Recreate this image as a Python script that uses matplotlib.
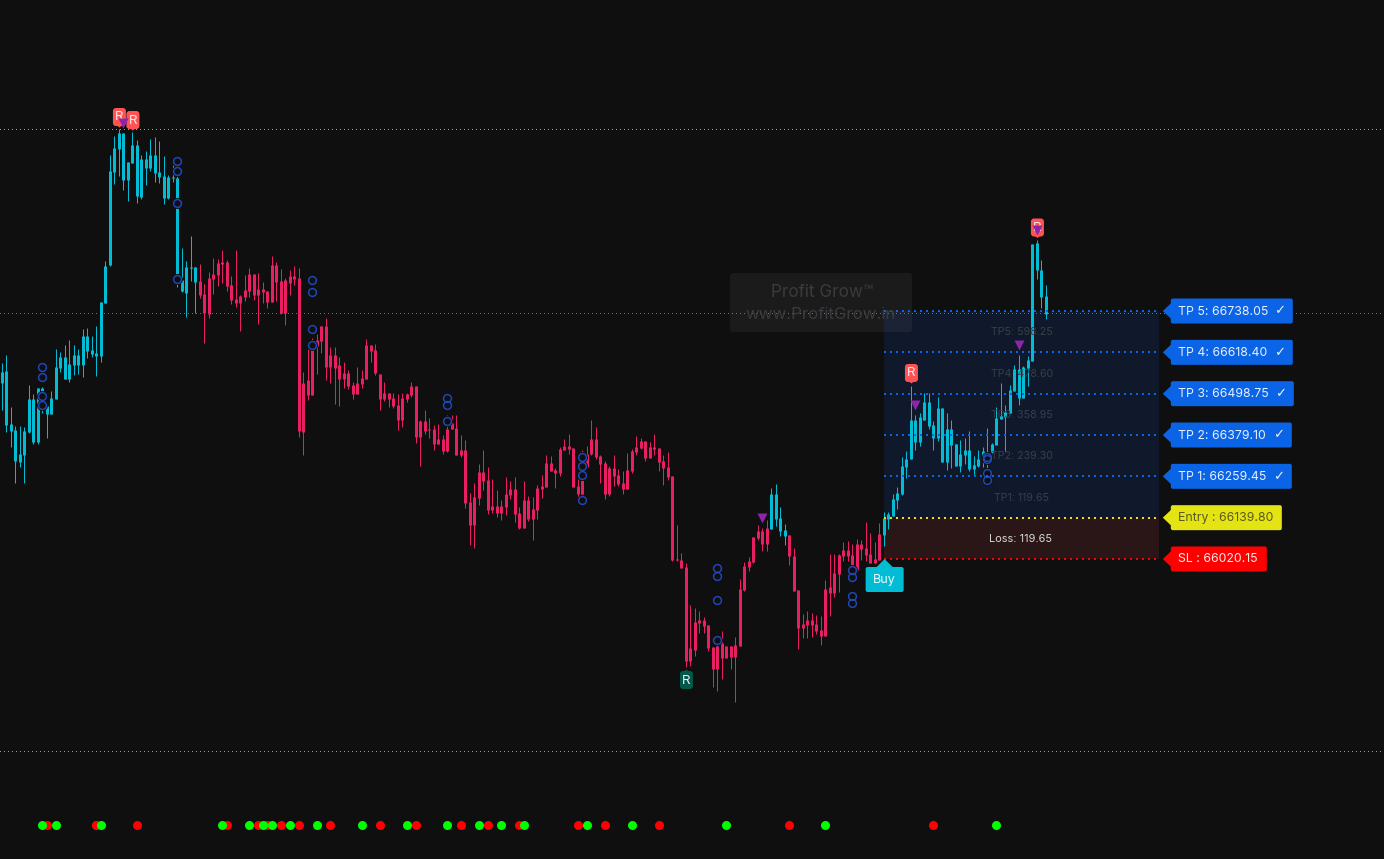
# Candle chart with buy signal, take profit ladder and signal dots
import numpy as np
import matplotlib
matplotlib.use("Agg")
import matplotlib.pyplot as plt
from matplotlib.patches import FancyBboxPatch, Polygon
from matplotlib.transforms import Affine2D

plt.rcParams['font.family'] = ['Inter', 'DejaVu Sans']

# trade levels, as printed on the tags
SL = 66020.15
ENTRY = 66139.80
TP_PRICES = [66259.45, 66379.10, 66498.75, 66618.40, 66738.05]
TP_GAINS = ["119.65", "239.30", "358.95", "478.60", "598.25"]
RISK = 119.65

# the chart has no price axis, candles are read as steps above the stop level
STEP = 2.895

highs = [196,204,152,133,133,132,174,165,171,172,
         154,168,210,207,214,219,214,210,230,231,
         223,233,257,298,404,423,430,426,397,427,
         419,404,408,420,422,418,403,384,394,394,
         311,298,323,292,295,275,287,301,300,309,
         299,283,309,264,284,291,285,286,277,268,
         303,297,290,281,289,293,291,187,210,221,
         225,233,241,212,212,202,197,189,177,192,
         189,220,214,215,185,177,166,166,165,166,
         166,177,173,139,149,141,134,135,124,144,
         144,144,124,119,66,76,95,109,92,80,
         69,59,82,78,82,52,78,63,62,74,
         84,104,103,91,112,120,125,111,80,109,
         113,139,132,104,98,93,104,90,88,106,
         110,123,121,118,117,125,111,104,107,83,
         34,6,-4,-46,-49,-52,-58,-66,-88,-81,
         -72,-87,-87,-78,-20,-3,2,22,34,31,
         39,71,75,52,35,24,11,-31,-55,-52,
         -54,-56,-57,-21,5,5,5,17,18,15,
         20,19,37,26,17,36,47,47,65,72,
         102,108,173,144,146,166,166,138,162,151,
         146,139,115,119,121,128,103,109,112,131,
         116,152,176,154,174,194,204,193,203,315,
         319,299,274]

lows = [149,127,112,76,92,76,126,115,115,146,
        121,145,160,187,180,177,184,185,182,201,
        202,183,197,256,293,375,383,369,358,396,
        356,360,374,388,377,376,355,360,377,272,
        267,242,278,246,261,216,241,265,273,276,
        268,255,252,228,258,262,259,235,256,251,
        257,258,245,234,264,274,122,104,159,164,
        185,206,179,176,155,153,171,170,160,165,
        171,180,197,184,149,158,152,151,129,132,
        157,162,116,93,125,121,109,115,105,107,
        130,104,102,51,14,11,54,69,45,46,
        42,39,44,60,37,30,31,38,19,40,
        61,72,88,71,83,109,105,72,62,64,
        92,104,100,76,60,63,73,73,65,70,
        86,104,110,98,101,104,88,74,79,-2,
        -2,-9,-108,-107,-97,-74,-74,-92,-128,-132,
        -120,-99,-110,-143,-87,-32,-12,-4,19,8,
        8,30,33,23,14,-6,-32,-90,-79,-79,
        -78,-75,-86,-77,-57,-38,-33,-2,-2,-11,
        -12,-1,-2,-4,-4,-1,13,30,43,50,
        64,81,100,109,113,139,130,109,118,97,
        89,91,93,87,95,88,84,92,92,89,
        106,114,140,108,146,168,154,161,173,198,
        280,251,240]

body_tops = [187,188,135,129,105,128,160,160,171,171,
             153,161,192,202,202,195,204,204,223,223,
             209,206,257,293,388,411,426,426,397,414,
             414,400,400,404,404,387,383,382,382,381,
             279,292,292,292,278,265,281,285,296,297,
             297,274,260,263,269,285,285,270,270,268,
             294,294,278,279,283,283,281,176,179,217,
             219,233,233,204,204,194,186,186,174,176,
             181,214,214,209,185,166,166,161,154,161,
             165,173,173,138,138,130,130,120,120,130,
             136,131,109,109,57,62,87,87,79,53,
             53,53,65,70,70,46,59,59,50,71,
             73,96,96,89,110,113,113,111,73,96,
             105,120,120,103,96,91,91,84,76,89,
             108,112,118,118,112,112,111,98,92,83,
             0,-1,-8,-89,-63,-61,-61,-66,-88,-87,
             -84,-87,-87,-86,-30,-7,-2,22,28,28,
             31,65,65,41,29,24,3,-31,-65,-61,
             -61,-65,-71,-30,-28,-14,4,9,9,4,
             15,15,11,5,0,25,41,45,60,66,
             93,100,139,139,142,157,157,134,151,151,
             130,130,115,105,109,109,94,100,108,104,
             115,141,143,147,169,190,190,192,199,315,
             316,289,263]

body_bottoms = [176,134,128,98,97,104,127,117,117,149,
                145,145,160,191,180,180,194,194,194,208,
                205,203,203,256,294,387,410,379,379,396,
                363,362,391,391,386,382,361,361,381,285,
                268,266,291,277,264,246,245,280,284,295,
                273,259,256,256,262,268,264,264,267,257,
                257,277,246,246,276,280,128,127,164,164,
                213,218,192,192,191,180,180,173,165,165,
                175,180,208,186,160,160,160,153,139,139,
                160,164,122,122,128,129,115,115,108,108,
                130,104,104,56,34,34,61,78,49,49,
                46,46,52,64,45,31,31,40,40,49,
                70,72,88,86,86,109,110,72,65,65,
                92,105,102,95,65,65,83,75,70,70,
                88,107,111,101,101,110,97,91,82,-1,
                -1,-9,-102,-102,-91,-64,-67,-89,-110,-110,
                -99,-99,-98,-98,-87,-31,-8,-3,21,15,
                15,30,40,28,23,3,-32,-69,-69,-66,
                -66,-72,-77,-77,-34,-34,-15,3,3,-6,
                -11,10,4,-4,-4,-1,24,40,43,59,
                65,92,100,117,117,139,133,121,121,97,
                97,114,93,93,104,90,90,93,99,96,
                107,114,140,142,146,168,161,161,191,198,
                289,262,245]

# bars drawn in cyan (first and last bar of each run), the rest are pink
cyan_runs = [(0, 43), (171, 174), (196, 232)]

# blue rings: bar, then the levels on that bar
ring_bars = [9, 39, 69, 99, 129, 159, 189, 219]
ring_levels = [[192, 182, 163, 154], [398, 388, 356, 280], [279, 267, 230, 214],
               [161, 154, 138], [102, 93, 84, 59], [-9, -17, -41, -81],
               [-37, -44, -11, -18], [100, 102, 79, 86]]

triangle_bars = [27, 169, 203, 226, 230]
triangle_levels = [436, 41, 154, 214, 329]

red_r_bars = [26, 29, 202, 230]
red_r_levels = [442, 439, 186, 331.5]
green_r_bar = 152
green_r_level = -121

buy_bar = 196

# price lines across the whole chart
guide_prices = [67265.0, 66732.0, 65464.0]
guide_colors = ["#a0a0a0", "#e04048", "#a0a0a0"]

# signal dots along the bottom
signal_level = -266
red_dots = [10, 21, 21, 30, 50, 57, 59, 62, 66, 73, 84, 92, 102, 108, 115,
            128, 134, 146, 175, 207]
green_dots = [9, 12, 22, 49, 55, 58, 60, 64, 70, 80, 90, 99, 106, 111, 116,
              130, 140, 161, 183, 221]

BG = "#0f0f0f"
CYAN = "#00bcd4"
PINK = "#e91e63"
BLUE = "#0b63e5"
YELLOW = "#e4e414"


def to_price(steps):
    return SL + np.array(steps, dtype=float) * STEP


fig = plt.figure(figsize=(13.84, 8.59), dpi=100, facecolor=BG)
ax = fig.add_axes([0, 0, 1, 1])
ax.set_facecolor(BG)
ax.axis("off")
ax.set_xlim(-0.36, 307.19)
ax.set_ylim(to_price(-300), to_price(559))
px = 0.72  # one pixel in points


def tag(bar, price, width, color, label, text_color, checked=False):
    x0, y0 = ax.transData.transform((bar, price))
    tr = Affine2D().translate(x0, y0)
    ax.add_patch(Polygon([(4, 0), (13, 8.5), (13, -8.5)], closed=True, fc=color, ec="none", transform=tr, zorder=9))
    ax.add_patch(FancyBboxPatch((14, -10.5), width - 4, 21, boxstyle="round,pad=2,rounding_size=2",
                                fc=color, ec="none", transform=tr, zorder=9))
    ax.text(19.5, -0.5, label, color=text_color, fontsize=8.85, ha="left", va="center",
            transform=tr, zorder=10)
    if checked:
        ax.text(12 + width - 13, 0, "✓", color=text_color, fontsize=9.5, family="DejaVu Sans", ha="center",
                va="center", transform=tr, zorder=10)


def r_badge(bar, level, color, tip_up=False):
    x0, y0 = ax.transData.transform((bar, to_price(level)))
    tr = Affine2D().translate(x0 + 0.8, y0)
    ax.add_patch(FancyBboxPatch((-4.5, -7), 9, 14, boxstyle="round,pad=2,rounding_size=3",
                                fc=color, ec="none", transform=tr, zorder=7))
    tip = 10.5 if tip_up else -10.5
    base = 8.5 if tip_up else -8.5
    ax.add_patch(Polygon([(0, tip), (-2.5, base), (2.5, base)], closed=True, fc=color, ec="none", transform=tr, zorder=7))
    ax.text(0, -0.5, "R", color="#f5e9e9", fontsize=9.6, ha="center", va="center", transform=tr, zorder=8)


# risk and reward boxes
box_start = buy_bar
box_end = 257.15
ax.fill_between([box_start, box_end], ENTRY, TP_PRICES[-1], color="#10182b", lw=0, zorder=2)
ax.fill_between([box_start, box_end], SL, ENTRY, color="#2a1616", lw=0, zorder=2)

# watermark panel, placed with its pixel corners
x_left = ax.transData.inverted().transform((730, 0))[0]
x_right = ax.transData.inverted().transform((912, 0))[0]
pw0, pw1 = ax.transData.transform((x_left, to_price(227))), ax.transData.transform((x_right, to_price(286)))
ax.add_patch(FancyBboxPatch((pw0[0] + 3, pw0[1] + 3), pw1[0] - pw0[0] - 6, pw1[1] - pw0[1] - 6,
                            boxstyle="round,pad=3,rounding_size=3", fc="white", alpha=0.05, ec="none",
                            transform=Affine2D(), zorder=2.5))

# guide lines
for price, col in zip(guide_prices, guide_colors):
    ax.axhline(price, color=col, lw=px, ls=(0, (1, 3.3)), aa=False, zorder=2.6)

# candles
bars = np.arange(len(highs))
colors = [PINK] * len(highs)
for first, last in cyan_runs:
    for i in range(first, last + 1):
        colors[i] = CYAN
tops = to_price(body_tops)
bottoms = to_price(body_bottoms)
tops = np.maximum(tops, bottoms + STEP)
wicks = ax.vlines(bars, to_price(lows), to_price(highs), colors=colors, lw=px, zorder=3)
bodies = ax.vlines(bars, bottoms, tops, colors=colors, lw=3 * px, zorder=3.1)
wicks.set_snap(True)
bodies.set_snap(True)

# rings, each with a dark halo that hides the candle behind it
for bar, levels in zip(ring_bars, ring_levels):
    for level in levels:
        ax.plot(bar, to_price(level), "o", ms=11 * px, mfc=BG, mec="none", zorder=4)
        ax.plot(bar, to_price(level), "o", ms=7.8 * px, mfc="none", mec="#1f47b8", mew=1.5 * px, zorder=4.1)

# dotted trade levels
for price in TP_PRICES:
    ax.hlines(price, box_start, box_end, color=BLUE, lw=2 * px, ls=(0, (1, 2)), zorder=5)
ax.hlines(ENTRY, box_start, box_end, color=YELLOW, lw=2 * px, ls=(0, (1, 2)), zorder=5)
ax.hlines(SL, box_start, box_end, color="#ff0000", lw=2 * px, ls=(0, (1, 2)), zorder=5)

# box captions
mid_bar = (box_start + box_end) / 2
lower = ENTRY
for i, price in enumerate(TP_PRICES):
    ax.text(mid_bar + 0.1, (lower + price) / 2 - 2, "TP%d: %s" % (i + 1, TP_GAINS[i]), color="#3a3e49", fontsize=7.6,
            ha="center", va="center", zorder=6)
    lower = price
ax.text(mid_bar - 0.1, (ENTRY + SL) / 2 - 2.5, "Loss: %.2f" % RISK, color="#d8d8d8", fontsize=7.9, ha="center", va="center", zorder=6)

# watermark text
ax.text((x_left + x_right) / 2 + 0.3, to_price(266.5), "Profit Grow™", color="#393b3e", fontsize=12.3, ha="center", va="center", zorder=6)
ax.text((x_left + x_right) / 2 - 0.1, to_price(244.5), "www.ProfitGrow.in", color="#393b3e", fontsize=12.1, ha="center", va="center", zorder=6)

# badges and triangles
for bar, level in zip(red_r_bars, red_r_levels):
    r_badge(bar, level, "#ff5252")
r_badge(green_r_bar, green_r_level, "#00594a", tip_up=True)
ax.plot(triangle_bars, to_price(triangle_levels), "v", ms=10.5 * px, color="#8e24aa", mec="none", ls="none", zorder=8.5)

# buy tag
bx, by = ax.transData.transform((buy_bar, SL))
tr = Affine2D().translate(bx + 1, by)
ax.add_patch(Polygon([(0, 0), (-9, -9), (9, -9)], closed=True, fc=CYAN, ec="none", transform=tr, zorder=9))
ax.add_patch(FancyBboxPatch((-17, -31), 34, 21, boxstyle="round,pad=2,rounding_size=2", fc=CYAN, ec="none", transform=tr, zorder=9))
ax.text(-0.5, -20.5, "Buy", color="#e8fbff", fontsize=9, ha="center", va="center", transform=tr, zorder=10)

# price tags
tag_widths = [121, 121, 123, 122, 122]
for i, price in enumerate(TP_PRICES):
    tag(box_end, price, tag_widths[i], BLUE, "TP %d: %.2f" % (i + 1, price), "#e6f0ff", checked=True)
tag(box_end, ENTRY, 111, YELLOW, "Entry : %.2f" % ENTRY, "#5a5a1e")
tag(box_end, SL, 96, "#ff0000", "SL : %.2f" % SL, "#ffe6e6")

# signal dots
ax.plot(red_dots, to_price([signal_level] * len(red_dots)), "o", ms=9 * px, color="#ff0000", mec="none", ls="none", zorder=3)
ax.plot(green_dots, to_price([signal_level] * len(green_dots)), "o", ms=9 * px, color="#00ff00", mec="none", ls="none", zorder=3.1)

fig.savefig("out.png", dpi=100, facecolor=BG)
